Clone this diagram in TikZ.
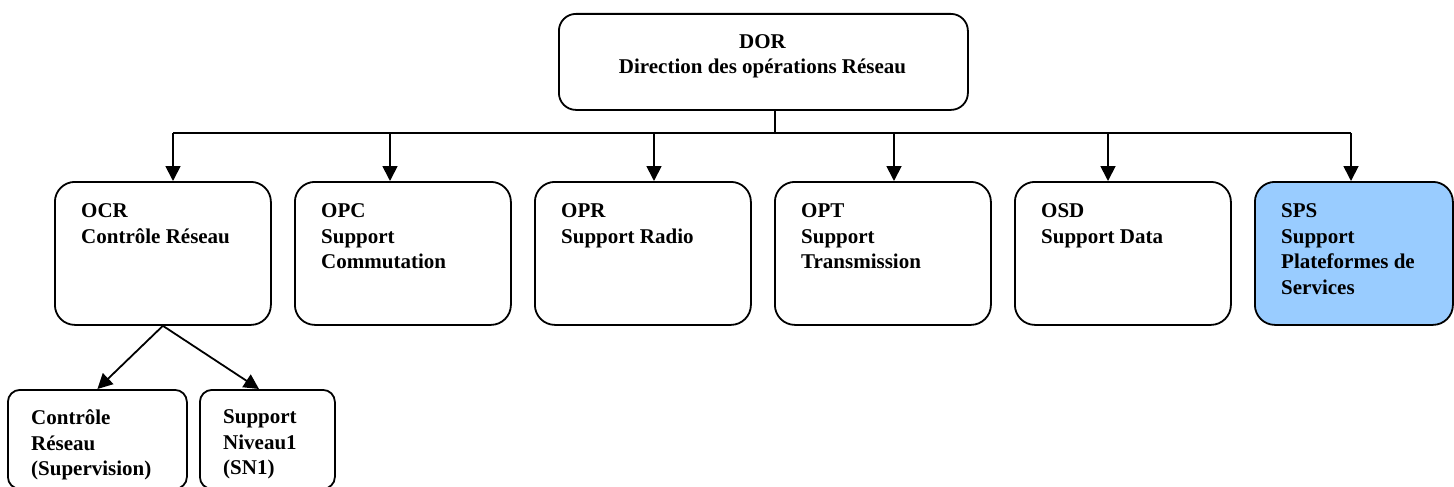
\documentclass[tikz,border=0pt]{standalone}
\usepackage{fontspec}
\setmainfont{Liberation Serif}
\usetikzlibrary{arrows.meta,calc}
\definecolor{spsblue}{RGB}{153,204,255}
\tikzset{
  box/.style={draw, line width=1.8pt, rounded corners=20pt, anchor=north west, inner sep=0pt, minimum width=216pt, minimum height=143pt},
  smallbox/.style={draw, line width=1.8pt, rounded corners=12pt, anchor=north west, inner sep=0pt, minimum height=99pt},
  lbl/.style={anchor=north west, inner sep=0pt, align=left, font=\fontsize{21}{25.5}\selectfont\bfseries},
  conn/.style={line width=1.8pt},
  arr/.style={line width=1.8pt, -{Triangle[length=15pt,width=15pt]}}
}
\begin{document}
\begin{tikzpicture}[x=1pt,y=-1pt]
\useasboundingbox (0,0) rectangle (1454,487);
\clip (0,0) rectangle (1454,487);
% top
\node[box, rounded corners=17pt, minimum width=409pt, minimum height=96pt] (dor) at (558,13) {};
\node[anchor=north, inner sep=0pt, align=center, font=\fontsize{21}{24.5}\selectfont\bfseries] (dort) at (762.5,34.5) {DOR\\Direction des opérations Réseau};
% second row
\node[box] (ocr) at (54,181) {};
\node[box] (opc) at (294,181) {};
\node[box] (opr) at (534,181) {};
\node[box] (opt) at (774,181) {};
\node[box] (osd) at (1014,181) {};
\node[box, fill=spsblue, minimum width=198pt] (sps) at (1254,181) {};
\node[lbl] (ocrt) at (81,203.5) {OCR\\Contrôle Réseau};
\node[lbl] (opct) at (321,203.5) {OPC\\Support\\Commutation};
\node[lbl] (oprt) at (561,203.5) {OPR\\Support Radio};
\node[lbl] (optt) at (801,203.5) {OPT\\Support\\Transmission};
\node[lbl] (osdt) at (1041,203.5) {OSD\\Support Data};
\node[lbl] (spst) at (1281,203.5) {SPS\\Support\\Plateformes de\\Services};
% third row
\node[smallbox, minimum width=179pt] (cr) at (7,389) {};
\node[smallbox, minimum width=135pt] (sn) at (199,389) {};
\node[lbl] (crt) at (31,409.5) {Contrôle\\Réseau\\(Supervision)};
\node[lbl] (snt) at (223,409.5) {Support\\Niveau1\\(SN1)};
% bus
\coordinate (stem) at (775,133);
\coordinate (t1) at (173,133);
\coordinate (t2) at (390,133);
\coordinate (t3) at (654,133);
\coordinate (t4) at (894,133);
\coordinate (t5) at (1108,133);
\coordinate (t6) at (1351,133);
\draw[conn] (dor.south -| stem) -- (stem);
\draw[conn] (t1) -- (t6);
\draw[arr] (t1) -- (t1 |- ocr.north);
\draw[arr] (t2) -- (t2 |- opc.north);
\draw[arr] (t3) -- (t3 |- opr.north);
\draw[arr] (t4) -- (t4 |- opt.north);
\draw[arr] (t5) -- (t5 |- osd.north);
\draw[arr] (t6) -- (t6 |- sps.north);
% sub
\draw[arr] (ocr.south) -- (cr.north);
\draw[arr] (ocr.south) -- ($(sn.north west)+(60,0)$);
\end{tikzpicture}
\end{document}
